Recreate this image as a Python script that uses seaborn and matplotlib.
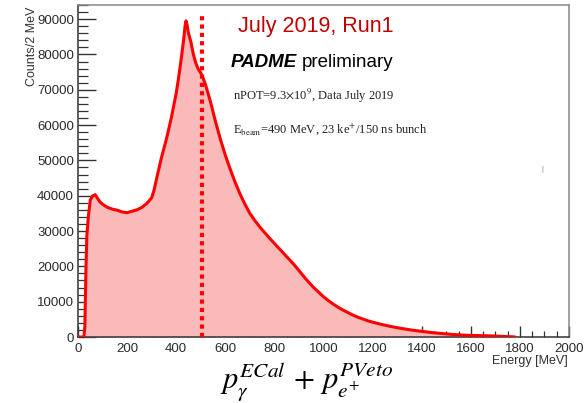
import matplotlib
matplotlib.use("Agg")
import matplotlib.pyplot as plt
import seaborn as sns
import pandas as pd
from matplotlib.ticker import MultipleLocator

# Energy sum spectrum (ECal photon + PVeto positron), counts per 2 MeV
energy_mev = [0, 24, 28, 32, 36, 42, 50, 60, 70, 80, 90, 100, 120, 140, 160, 180,
              200, 220, 240, 260, 280, 300, 310, 320, 340, 360, 380, 400, 410, 420,
              430, 436, 440, 444, 450, 460, 470, 480, 490, 500, 510, 520, 540, 560,
              580, 600, 620, 640, 660, 680, 700, 720, 740, 760, 780, 800, 820, 840,
              860, 880, 900, 920, 940, 960, 980, 1000, 1020, 1040, 1060, 1080, 1100,
              1120, 1140, 1160, 1180, 1200, 1240, 1280, 1320, 1360, 1400, 1440, 1480,
              1520, 1560, 1600, 1640, 1680, 1720, 1760, 1780]
counts = [0, 0, 3000, 18000, 28500, 34000, 38800, 40000, 40300, 39200, 38200, 37600,
          36700, 36200, 35900, 35400, 35200, 35600, 36000, 36700, 37800, 39400, 41600,
          44800, 50800, 56000, 62000, 69000, 73500, 78500, 84000, 88000, 89500, 88500,
          86000, 83500, 80000, 77500, 75800, 74800, 73200, 71300, 66500, 61000, 56000,
          51500, 47500, 43800, 40500, 37600, 35000, 33000, 31200, 29600, 28000, 26500,
          25000, 23500, 22000, 20500, 18800, 17100, 15500, 14000, 12700, 11400, 10300,
          9300, 8400, 7600, 6900, 6200, 5600, 5100, 4600, 4200, 3500, 2900, 2400, 1950,
          1600, 1250, 1000, 750, 560, 460, 390, 320, 200, 80, 20]

beam_energy_cut = 506  # MeV, dotted marker line
x_range = (0, 2000)
y_range = (0, 94000)

df = pd.DataFrame({"Energy": energy_mev, "Counts": counts})

sns.set_style("ticks")
plt.rcParams["font.family"] = ["Liberation Sans", "DejaVu Sans"]
plt.rcParams["mathtext.fontset"] = "stix"

W, H = 584, 403
fig = plt.figure(figsize=(W / 100, H / 100), dpi=100)
ax = fig.add_axes([78 / W, 1 - 337 / H, (569 - 78) / W, (337 - 5) / H])

ax.fill_between(df["Energy"], df["Counts"], color="#fbbaba", linewidth=0, zorder=1)
sns.lineplot(data=df, x="Energy", y="Counts", ax=ax, color="#ff0000",
             linewidth=2.2, estimator=None, sort=False, zorder=3)
ax.vlines(beam_energy_cut, 0, 92000, colors="#ff0000", linewidth=3,
          linestyles=(0, (1, 1)), zorder=4)

ax.set_xlim(*x_range)
ax.set_ylim(*y_range)

ax.xaxis.set_major_locator(MultipleLocator(200))
ax.xaxis.set_minor_locator(MultipleLocator(50))
ax.yaxis.set_major_locator(MultipleLocator(10000))
ax.yaxis.set_minor_locator(MultipleLocator(2000))

ax.tick_params(axis="x", which="major", direction="in", length=8, width=1,
               color="#333333", labelsize=9.5, labelcolor="#2a2a2a", pad=4)
ax.tick_params(axis="x", which="minor", direction="in", length=4, width=0.9,
               color="#333333")
ax.tick_params(axis="y", which="major", direction="in", length=13, width=1,
               color="#333333", labelsize=9.5, labelcolor="#2a2a2a", pad=3)
ax.tick_params(axis="y", which="minor", direction="in", length=7, width=0.9,
               color="#333333")

for name, sp in ax.spines.items():
    sp.set_visible(True)
    sp.set_linewidth(1.1)
    sp.set_color("#333333" if name in ("left", "bottom") else "#888888")

ax.set_xlabel("")
ax.set_ylabel("")
fig.text(32 / W, 1 - 7 / H, "Counts/2 MeV", rotation=90, ha="center", va="top",
         fontsize=9, color="#333333")
fig.text(568 / W, 1 - 355 / H, "Energy [MeV]", ha="right", va="top",
         fontsize=9, color="#333333")

fig.text(238 / W, 1 - 32 / H, "July 2019, Run1", fontsize=15.5, color="#c00000",
         va="baseline", ha="left")
t_padme = fig.text(231 / W, 1 - 67 / H, "PADME", fontsize=13.5, fontweight="bold",
                   fontstyle="italic", va="baseline", ha="left", color="black")
fig.canvas.draw()
bb = t_padme.get_window_extent()
fig.text((bb.x1 + 5) / W, 1 - 67 / H, "preliminary", fontsize=13.5,
         va="baseline", ha="left", color="black")

serif = ["Liberation Serif", "DejaVu Serif"]
fig.text(233 / W, 1 - 100 / H, r"nPOT=9.3$\times$10$^{9}$, Data July 2019",
         fontsize=9, family=serif, va="baseline", ha="left", color="#222222")
fig.text(233 / W, 1 - 133 / H, r"E$_{\rm beam}$=490 MeV, 23 ke$^{+}$/150 ns bunch",
         fontsize=9, family=serif, va="baseline", ha="left", color="#222222")
fig.text(542 / W, 1 - 169 / H, "|", fontsize=5, color="#888888", ha="center",
         va="center")

fig.text(307 / W, 1 - 382 / H, r"$p_{\gamma}^{ECal}\,+\,p_{e^{+}}^{PVeto}$",
         fontsize=22, ha="center", va="center", color="black")

fig.savefig("out.png", dpi=100)
